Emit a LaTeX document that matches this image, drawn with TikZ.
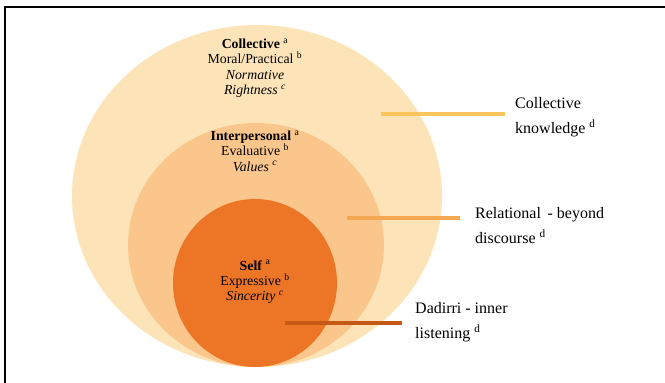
\documentclass[tikz,border=0pt]{standalone}
\usepackage{fontspec}
\setmainfont{Liberation Serif}
\definecolor{ringOuter}{RGB}{253,228,184}
\definecolor{ringMid}{RGB}{250,198,140}
\definecolor{ringCore}{RGB}{236,118,38}
\definecolor{lineOuter}{RGB}{250,198,92}
\definecolor{lineMid}{RGB}{245,168,82}
\definecolor{lineCore}{RGB}{196,88,20}
\begin{document}
\begin{tikzpicture}[x=1pt,y=-1pt,
  ringtext/.style={align=center,font=\fontsize{13.8}{15.3}\selectfont,inner sep=0pt},
  sidetext/.style={align=left,anchor=north west,font=\fontsize{16}{25}\selectfont,inner sep=0pt},
  leader/.style={line width=3.2pt}]
  \useasboundingbox (0,0) rectangle (665,383);
  % frame edges
  \draw[line width=2pt] (5,383) -- (5,7) -- (665,7);
  % nested rings
  \fill[ringOuter] (257,196) ellipse [x radius=185, y radius=171];
  \fill[ringMid] (256,245) ellipse [x radius=128, y radius=122];
  \fill[ringCore] (255,283) ellipse [x radius=82, y radius=84];
  % ring labels
  \node[ringtext] (collective) at (255,68) {\textbf{Collective} $^{\mathrm{a}}$\\Moral/Practical $^{\mathrm{b}}$\\\textit{Normative}\\\textit{Rightness} $^{\mathit{c}}$};
  \node[ringtext] (interpersonal) at (255,151) {\textbf{Interpersonal} $^{\mathrm{a}}$\\Evaluative $^{\mathrm{b}}$\\\textit{Values} $^{\mathit{c}}$};
  \node[ringtext] (self) at (255,282) {\textbf{Self} $^{\mathrm{a}}$\\Expressive $^{\mathrm{b}}$\\\textit{Sincerity} $^{\mathit{c}}$};
  % side labels
  \node[sidetext] (knowledge) at (515,97) {Collective\\knowledge $^{\mathrm{d}}$};
  \node[sidetext] (relational) at (475,207) {Relational \,- beyond\\discourse $^{\mathrm{d}}$};
  \node[sidetext] (dadirri) at (415,302) {Dadirri - inner\\listening $^{\mathrm{d}}$};
  % leader lines from each ring towards its label
  \coordinate (pOuter) at (381,114);
  \coordinate (pMid) at (347,218);
  \coordinate (pCore) at (285,323);
  \draw[leader,lineOuter] (pOuter) -- ([xshift=-10pt]knowledge.west |- pOuter);
  \draw[leader,lineMid] (pMid) -- ([xshift=-15pt]relational.west |- pMid);
  \draw[leader,lineCore] (pCore) -- ([xshift=-13pt]dadirri.west |- pCore);
\end{tikzpicture}
\end{document}
